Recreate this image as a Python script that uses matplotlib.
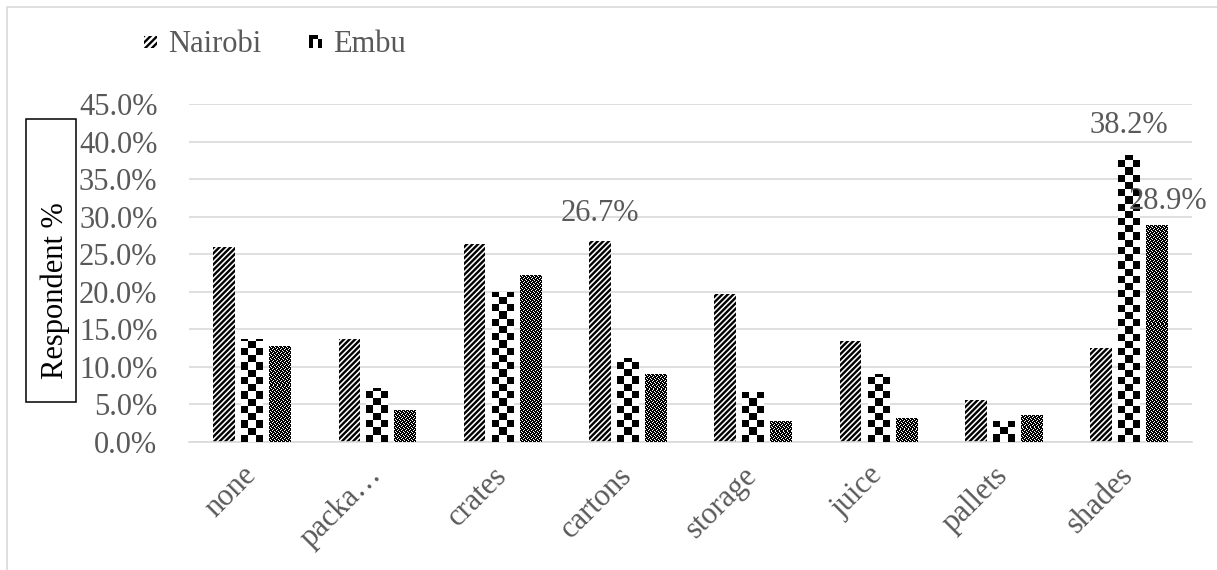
import numpy as np
import matplotlib
matplotlib.use("Agg")
import matplotlib.pyplot as plt
from matplotlib.patches import Rectangle
from matplotlib.legend_handler import HandlerBase
from matplotlib.image import BboxImage
from matplotlib.transforms import Bbox, TransformedBbox
from matplotlib.colors import Normalize
from matplotlib.ticker import PercentFormatter

# ---------------- data ----------------
categories = ["none", "packa\u2026", "crates", "cartons", "storage", "juice", "pallets", "shades"]
series_names = ["Nairobi", "Embu", "Series3"]
nairobi = [26.0, 13.7, 26.4, 26.7, 19.7, 13.4, 5.6, 12.5]
embu = [13.7, 7.2, 20.0, 11.2, 6.6, 9.0, 2.8, 38.2]
series3 = [12.8, 4.2, 22.2, 9.1, 2.8, 3.2, 3.6, 28.9]
yticks = [0, 5, 10, 15, 20, 25, 30, 35, 40, 45]
labelled = [("Nairobi", "cartons"), ("Embu", "shades"), ("Series3", "shades")]

# ---------------- style ----------------
plt.rcParams['font.family'] = ['Liberation Serif', 'DejaVu Serif']
plt.rcParams['hatch.linewidth'] = 1.7
GRAY = '#595959'
GRID = '#d9d9d9'
W, H = 1217, 570

fig = plt.figure(figsize=(W / 100, H / 100), dpi=100)
ax = fig.add_axes([189.4 / W, 1 - 442 / H, (1191.6 - 189.4) / W, (442 - 104) / H])

# outer chart border (top & left visible)
fig.patches.append(Rectangle((7 / W, -0.5), 2.0, 1.5 - 7 / H, transform=fig.transFigure,
                             facecolor='none', edgecolor=GRID, linewidth=1.2))

x = np.arange(len(categories))
width = 0.173
step = 0.223
ax.set_xlim(-0.5, len(categories) - 0.5)
ax.set_ylim(0, 45)

bars_n = ax.bar(x - step, nairobi, width, facecolor='white', edgecolor='black',
                linewidth=0, hatch='//////', zorder=2)
bars_e = ax.bar(x, embu, width, facecolor='white', linewidth=0, zorder=2)
bars_t = ax.bar(x + step, series3, width, facecolor='white', linewidth=0, zorder=2)

checker = np.array([[1, 0], [0, 1]])
dots = np.array([[0, 1, 1, 1],
                 [1, 1, 0, 1],
                 [1, 0, 1, 1],
                 [1, 1, 1, 0]])


def fill_pattern(rects, tile, cols=None, cell_px=None):
    th, tw = tile.shape
    for r in rects:
        x0, w, h = r.get_x(), r.get_width(), r.get_height()
        p0 = ax.transData.transform((x0, 0))
        p1 = ax.transData.transform((x0 + w, h))
        wpx, hpx = p1[0] - p0[0], p1[1] - p0[1]
        c = wpx / cols if cols else cell_px
        nx = int(np.ceil(wpx / c))
        ny = int(np.ceil(hpx / c)) + 1
        arr = np.tile(tile, (ny // th + 2, nx // tw + 2))[:ny, :nx]
        dx = w / wpx * c
        dy = h / hpx * c if hpx > 0 else 0
        im = ax.imshow(arr, extent=[x0, x0 + nx * dx, 0, ny * dy], origin='lower',
                       cmap='gray_r', norm=Normalize(0, 1), interpolation='nearest',
                       aspect='auto', zorder=3)
        im.set_clip_path(r)


fill_pattern(bars_e, checker, cols=3)
fill_pattern(bars_t, dots, cell_px=1.0)
ax.set_xlim(-0.5, len(categories) - 0.5)
ax.set_ylim(0, 45)

# axes styling
ax.set_yticks(yticks)
ax.yaxis.set_major_formatter(PercentFormatter(decimals=1))
ax.grid(axis='y', color=GRID, linewidth=1.2, zorder=0)
ax.set_axisbelow(True)
for s in ['top', 'right', 'left']:
    ax.spines[s].set_visible(False)
ax.spines['bottom'].set_color(GRID)
ax.spines['bottom'].set_linewidth(1.2)
ax.tick_params(axis='both', length=0, labelsize=22, labelcolor=GRAY)
ax.tick_params(axis='y', pad=23)
ax.set_xticks(x)
ax.set_xticklabels(categories, rotation=45, ha='right', va='center', rotation_mode='anchor')
ax.tick_params(axis='x', pad=21)

# data labels
vals = {"Nairobi": nairobi, "Embu": embu, "Series3": series3}
offs = {"Nairobi": -step, "Embu": 0.0, "Series3": step}
label_offsets = {("Nairobi", "cartons"): (0, 20), ("Embu", "shades"): (0, 21),
                 ("Series3", "shades"): (8, 17)}
for s, c in labelled:
    i = categories.index(c)
    v = vals[s][i]
    ax.annotate(f"{v:.1f}%", (i + offs[s], v), xytext=label_offsets[(s, c)],
                textcoords='offset points', ha='center', va='center',
                fontsize=22, color=GRAY, zorder=5)

# y-axis title in a box
fig.patches.append(Rectangle((26 / W, 1 - 402 / H), 50 / W, 283 / H, transform=fig.transFigure,
                             facecolor='white', edgecolor='black', linewidth=1.1))
fig.text(55 / W, 1 - 291 / H, "Respondent %", rotation=90, ha='center', va='center',
         fontsize=22, color='black')


# legend
class PatternHandler(HandlerBase):
    def __init__(self, tile=None, hatch=None):
        super().__init__()
        self.tile = tile
        self.hatch = hatch

    def create_artists(self, legend, orig_handle, xdescent, ydescent, width, height,
                       fontsize, trans):
        s = 9.0
        x0 = -xdescent + (width - s) / 2
        y0 = -ydescent + (height - s) / 2
        if self.hatch:
            p = Rectangle((x0, y0), s, s, facecolor='white', edgecolor='black',
                          linewidth=0, hatch=self.hatch, transform=trans)
            return [p]
        bb = TransformedBbox(Bbox.from_bounds(x0, y0, s, s), trans)
        im = BboxImage(bb, cmap='gray_r', norm=Normalize(0, 1), interpolation='nearest')
        im.set_data(self.tile)
        return [im]


embu_icon = np.array([[1, 1, 0],
                      [1, 0, 1],
                      [1, 0, 1]])
leg = ax.legend([bars_n, bars_e], ["Nairobi", "Embu"],
                handler_map={bars_n: PatternHandler(hatch='/////'),
                             bars_e: PatternHandler(tile=embu_icon)},
                loc='center left', bbox_to_anchor=(144 / W, 1 - 45 / H),
                bbox_transform=fig.transFigure, ncol=2, frameon=False, fontsize=22,
                labelcolor=GRAY, borderpad=0, borderaxespad=0, handlelength=0.42,
                handletextpad=0.36, columnspacing=1.57)

fig.savefig("out.png", dpi=100)
